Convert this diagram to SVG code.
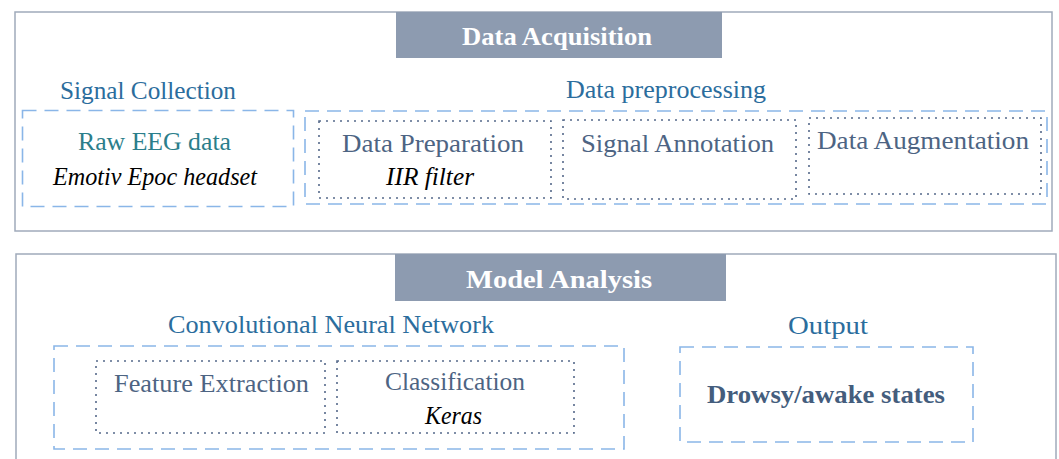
<svg xmlns="http://www.w3.org/2000/svg" width="1059" height="459" viewBox="0 0 1059 459">
<style>
.outer{fill:#fff;stroke:#a0aabb;stroke-width:1.5}
.hdr{fill:#8d9bb0}
.dash{fill:none;stroke:#8ab6e8;stroke-width:1.6;stroke-dasharray:14 8}
.dot{fill:none;stroke:#56698a;stroke-width:1.6;stroke-dasharray:2 5}
text{font-family:"Liberation Serif","Times New Roman",serif;font-size:25.5px}
.ht{fill:#fff;font-weight:bold;font-size:24.5px}
.ttl{fill:#2b6d9d}
.teal{fill:#2b7e8b}
.lbl{fill:#4d6483}
.it{fill:#000;font-style:italic}
.bold{fill:#445d7d;font-weight:bold}
</style>
<g id="data-acquisition">
<rect class="outer" x="15" y="12" width="1037" height="219"/>
<rect class="hdr" x="396" y="12" width="326" height="46"/>
<text class="ht" x="462" y="45" textLength="190" lengthAdjust="spacingAndGlyphs">Data Acquisition</text>
</g>
<g id="signal-collection">
<text class="ttl" x="60" y="99" textLength="176" lengthAdjust="spacingAndGlyphs">Signal Collection</text>
<rect class="dash" x="22.5" y="110.5" width="271" height="96"/>
<text class="teal" x="78" y="150" textLength="153" lengthAdjust="spacingAndGlyphs">Raw EEG data</text>
<text class="it" x="53" y="185" textLength="204" lengthAdjust="spacingAndGlyphs">Emotiv Epoc headset</text>
</g>
<g id="data-preprocessing">
<text class="ttl" x="566" y="98" textLength="200" lengthAdjust="spacingAndGlyphs">Data preprocessing</text>
<rect class="dash" x="305" y="111" width="742" height="93"/>
</g>
<g id="data-preparation">
<rect class="dot" x="319" y="121" width="232" height="77"/>
<text class="lbl" x="342" y="152" textLength="182" lengthAdjust="spacingAndGlyphs">Data Preparation</text>
<text class="it" x="386" y="185" textLength="88" lengthAdjust="spacingAndGlyphs">IIR filter</text>
</g>
<g id="signal-annotation">
<rect class="dot" x="563" y="120" width="233" height="79"/>
<text class="lbl" x="581" y="152" textLength="193" lengthAdjust="spacingAndGlyphs">Signal Annotation</text>
</g>
<g id="data-augmentation">
<rect class="dot" x="809" y="118" width="232" height="76"/>
<text class="lbl" x="817" y="149" textLength="212" lengthAdjust="spacingAndGlyphs">Data Augmentation</text>
</g>
<g id="model-analysis">
<rect class="outer" x="16" y="254" width="1040" height="220"/>
<rect class="hdr" x="395" y="254" width="331" height="47"/>
<text class="ht" x="466" y="288" textLength="186" lengthAdjust="spacingAndGlyphs">Model Analysis</text>
</g>
<g id="cnn">
<text class="ttl" x="168" y="333" textLength="326" lengthAdjust="spacingAndGlyphs">Convolutional Neural Network</text>
<rect class="dash" x="54" y="346" width="570" height="103"/>
</g>
<g id="feature-extraction">
<rect class="dot" x="96" y="361" width="229" height="72"/>
<text class="lbl" x="114" y="392" textLength="195" lengthAdjust="spacingAndGlyphs">Feature Extraction</text>
</g>
<g id="classification">
<rect class="dot" x="337" y="361" width="237" height="72"/>
<text class="lbl" x="385" y="390" textLength="140" lengthAdjust="spacingAndGlyphs">Classification</text>
<text class="it" x="425" y="424" textLength="57" lengthAdjust="spacingAndGlyphs">Keras</text>
</g>
<g id="output">
<text class="ttl" x="788" y="334" textLength="80" lengthAdjust="spacingAndGlyphs">Output</text>
<rect class="dash" x="680" y="347" width="293" height="95"/>
<text class="bold" x="707" y="403" textLength="238" lengthAdjust="spacingAndGlyphs">Drowsy/awake states</text>
</g>
<g id="connectors"></g>
</svg>
